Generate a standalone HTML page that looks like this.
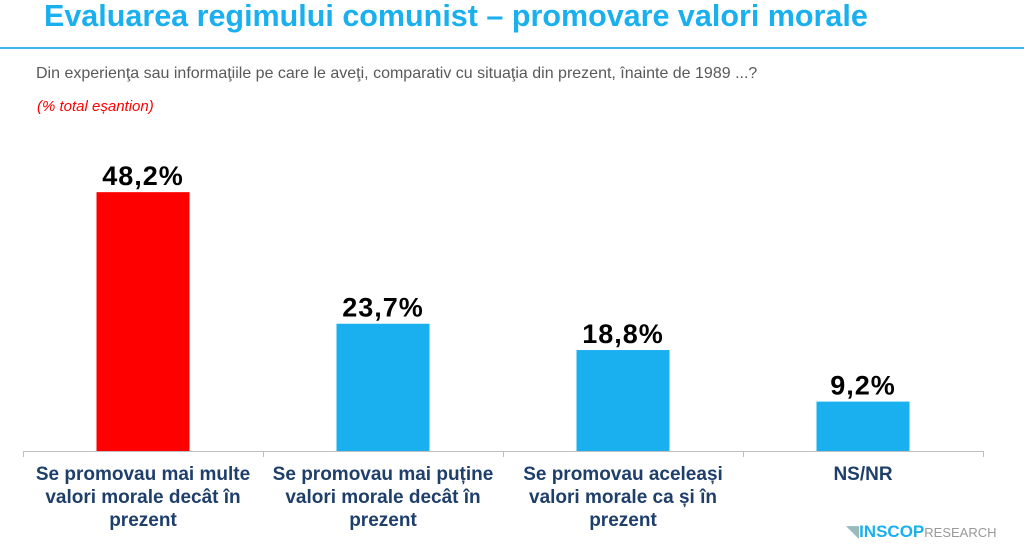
<!DOCTYPE html>
<html><head><meta charset="utf-8"><style>
body{margin:0;width:1024px;height:545px;background:#fff;overflow:hidden;font-family:"Liberation Sans",sans-serif;position:relative}
.t{position:absolute;white-space:nowrap}
</style></head><body>
<div class="t" style="left:44px;top:-1px;font-size:30.5px;font-weight:bold;color:#1ab0ef">Evaluarea regimului comunist – promovare valori morale</div>
<div style="position:absolute;left:0;top:47px;width:1024px;height:2px;background:#3bb8ee"></div>
<div class="t" style="left:36px;top:65px;font-size:16px;color:#595959">Din experienţa sau informaţiile pe care le aveţi, comparativ cu situaţia din prezent, înainte de 1989 ...?</div>
<div class="t" style="left:37px;top:98px;font-size:15px;font-style:italic;color:#ff0000">(% total eșantion)</div>
<svg id="c" width="1024" height="545" style="position:absolute;left:0;top:0"></svg>
<div class="t" style="left:846px;top:522px;font-size:17px;color:#1ab0ef"><span style="color:#9bb">◥</span><b>INSCOP</b><span style="font-size:13px;color:#999">RESEARCH</span></div>
<script>
const categories=[["Se promovau mai multe","valori morale decât în","prezent"],["Se promovau mai puține","valori morale decât în","prezent"],["Se promovau aceleași","valori morale ca și în","prezent"],["NS/NR"]];
const values=[48.2,23.7,18.8,9.2];
const valueLabels=["48,2%","23,7%","18,8%","9,2%"];
const colors=["#ff0000","#1ab0ef","#1ab0ef","#1ab0ef"];
const svg=document.getElementById('c');const NS='http://www.w3.org/2000/svg';
const x0=23,step=240,base=451,k=5.37,bw=93;
function x(i){return x0+step*i+step/2;}
function y(v){return base-v*k;}
function mk(t,a){const e=document.createElementNS(NS,t);for(const n in a)e.setAttribute(n,a[n]);svg.appendChild(e);return e;}
values.forEach((v,i)=>{
 const r=mk('rect',{x:x(i)-bw/2,y:y(v),width:bw,height:base-y(v),fill:colors[i]});
 
 
 const t=mk('text',{x:x(i),y:y(v)-7,'text-anchor':'middle','font-size':27,'font-weight':'bold','letter-spacing':1,fill:'#000','font-family':'Liberation Sans,sans-serif'});
 t.textContent=valueLabels[i];
 
 
 categories[i].forEach((ln,j)=>{
  const c=mk('text',{x:x(i),y:480+j*23,'text-anchor':'middle','font-size':19,'font-weight':'bold',fill:'#1f3f6b','font-family':'Liberation Sans,sans-serif'});
  c.textContent=ln;
  
  
 });
});
const ax=mk('line',{x1:x0,x2:x0+step*4,y1:base+.5,y2:base+.5,stroke:'#bfbfbf'});


for(let i=0;i<=4;i++){const tk=mk('line',{x1:x0+step*i+.5,x2:x0+step*i+.5,y1:base,y2:base+6,stroke:'#bfbfbf'});

}
</script>
</body></html>
